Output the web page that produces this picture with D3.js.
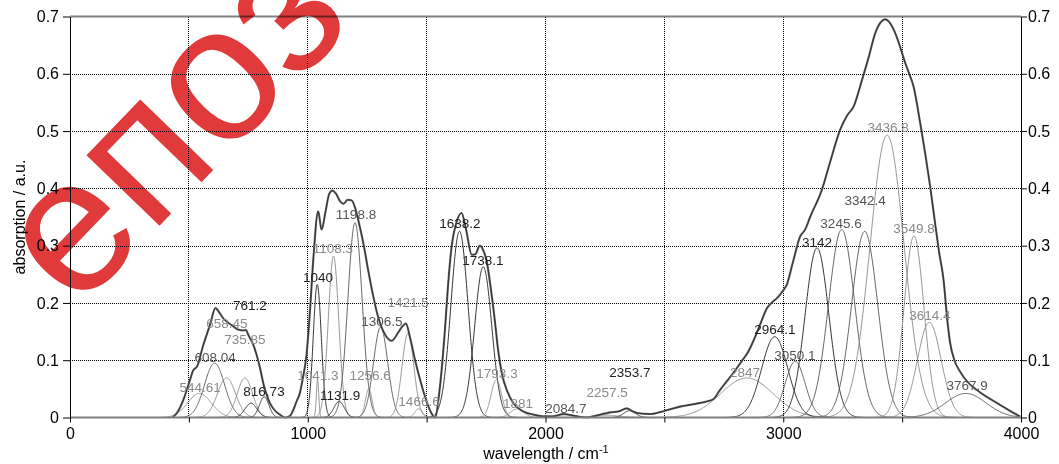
<!DOCTYPE html>
<html>
<head>
<meta charset="utf-8">
<script src="https://cdn.jsdelivr.net/npm/d3@7"></script>
<style>
body { margin: 0; background: #fff; }
svg text { font-family: "Liberation Sans", Arial, sans-serif; }
</style>
</head>
<body>
<svg id="chart"></svg>
<script>
var spectrum = [
  [430, 0], [450, 0.008], [477, 0.031], [505, 0.066], [519, 0.083], [533, 0.088],
  [561, 0.127], [589, 0.162], [612, 0.191], [630, 0.182], [645, 0.173], [667, 0.165],
  [687, 0.159], [710, 0.153], [729, 0.152], [740, 0.153], [750, 0.144], [770, 0.128],
  [785, 0.109], [800, 0.085], [813, 0.06], [827, 0.04], [841, 0.025], [862, 0.012],
  [883, 0.005], [904, 0], [925, 0.003], [953, 0.028], [967, 0.043], [980, 0.07],
  [995, 0.11], [1010, 0.19], [1024, 0.28], [1044, 0.36], [1058, 0.328], [1075, 0.36],
  [1090, 0.39], [1103, 0.396], [1120, 0.39], [1135, 0.378], [1150, 0.373], [1168, 0.38],
  [1185, 0.379], [1200, 0.365], [1215, 0.34], [1234, 0.304], [1255, 0.255], [1276, 0.211],
  [1290, 0.185], [1304, 0.165], [1325, 0.145], [1353, 0.134], [1380, 0.148], [1400, 0.16],
  [1413, 0.164], [1430, 0.14], [1451, 0.101], [1470, 0.07], [1493, 0.037], [1515, 0.012],
  [1535, 0], [1555, 0.05], [1577, 0.153], [1590, 0.23], [1605, 0.298], [1625, 0.34],
  [1647, 0.357], [1665, 0.33], [1690, 0.284], [1705, 0.285], [1724, 0.3], [1740, 0.29],
  [1753, 0.272], [1770, 0.225], [1788, 0.165], [1800, 0.12], [1816, 0.078], [1840, 0.045],
  [1865, 0.025], [1900, 0.012], [1949, 0.005], [1990, 0.002], [2030, 0.002], [2075, 0.006],
  [2120, 0.003], [2174, 0], [2220, 0.004], [2272, 0.009], [2310, 0.011], [2342, 0.016],
  [2365, 0.011], [2384, 0.008], [2440, 0.006], [2496, 0.011], [2566, 0.019], [2620, 0.023],
  [2678, 0.028], [2706, 0.032], [2734, 0.048], [2760, 0.062], [2790, 0.078], [2825, 0.098],
  [2853, 0.115], [2888, 0.147], [2910, 0.17], [2930, 0.19], [2950, 0.2], [2973, 0.208],
  [3000, 0.222], [3015, 0.232], [3040, 0.27], [3071, 0.316], [3092, 0.328], [3113, 0.35],
  [3162, 0.397], [3200, 0.45], [3239, 0.502], [3270, 0.528], [3296, 0.543], [3331, 0.589],
  [3360, 0.63], [3387, 0.671], [3410, 0.69], [3429, 0.695], [3450, 0.688], [3471, 0.671],
  [3493, 0.645], [3513, 0.619], [3530, 0.6], [3548, 0.578], [3576, 0.514], [3597, 0.461],
  [3618, 0.403], [3640, 0.335], [3655, 0.29], [3674, 0.241], [3690, 0.17], [3702, 0.13],
  [3720, 0.1], [3744, 0.08], [3780, 0.06], [3814, 0.048], [3860, 0.035], [3912, 0.022],
  [3960, 0.01], [3996, 0.002]
];

// fitted gaussian components
var peakNames   = ["544.61", "608.04", "658.45", "735.85", "761.2", "816.73", "1040", "1041.3",
                   "1108.3", "1131.9", "1198.8", "1256.6", "1306.5", "1421.5", "1466.6", "1638.2",
                   "1738.1", "1793.3", "1881", "2084.7", "2257.5", "2353.7", "2847", "2964.1",
                   "3050.1", "3142", "3245.6", "3342.4", "3436.8", "3549.8", "3614.4", "3767.9"];
var peakHeights = [0.042, 0.095, 0.069, 0.069, 0.025, 0.036, 0.232, 0.066,
                   0.282, 0.028, 0.340, 0.050, 0.158, 0.147, 0.015, 0.325,
                   0.263, 0.066, 0.015, 0.005, 0.004, 0.012, 0.069, 0.141,
                   0.098, 0.296, 0.328, 0.325, 0.493, 0.317, 0.166, 0.042];
var peakWidths  = [50, 42, 38, 32, 25, 20, 17, 5,
                   22, 22, 30, 14, 30, 25, 16, 36,
                   36, 22, 28, 40, 50, 25, 110, 55,
                   42, 50, 55, 55, 72, 42, 50, 85];
var peakTones   = ["l", "m", "l", "l", "d", "d", "d", "l",
                   "l", "d", "m", "l", "m", "l", "l", "d",
                   "d", "l", "l", "m", "l", "d", "l", "d",
                   "m", "d", "m", "m", "l", "l", "l", "m"];
// where each peak label sits, in data units
var labelX = [547, 610, 660, 736, 757, 816, 1043, 1043,
              1106, 1136, 1203, 1262, 1312, 1422, 1468, 1640,
              1737, 1796, 1884, 2086, 2259, 2355, 2839, 2965,
              3049, 3142, 3243, 3344, 3441, 3550, 3617, 3773];
var labelY = [0.045, 0.097, 0.157, 0.129, 0.188, 0.038, 0.237, 0.066,
              0.287, 0.031, 0.346, 0.066, 0.160, 0.193, 0.020, 0.330,
              0.266, 0.069, 0.017, 0.008, 0.036, 0.071, 0.071, 0.146,
              0.101, 0.298, 0.331, 0.371, 0.498, 0.322, 0.170, 0.048];

var xTicks = [0, 500, 1000, 1500, 2000, 2500, 3000, 3500, 4000];
var xTickLabels = ["0", "", "1000", "", "2000", "", "3000", "", "4000"];
var yTicks = [0, 0.1, 0.2, 0.3, 0.4, 0.5, 0.6, 0.7];
var yTickLabels = ["0", "0.1", "0.2", "0.3", "0.4", "0.5", "0.6", "0.7"];

var width = 1059;
var height = 464;
var toneColor = { d: "#1e1e1e", m: "#555555", l: "#8a8a8a" };

var svg = d3.select('#chart')
    .attr('width', width)
    .attr('height', height);

var x = d3.scaleLinear().domain([0, 4000]).range([70, 1021]);
var y = d3.scaleLinear().domain([0, 0.7]).range([417.5, 16.5]);

// dotted grid
svg.append('g').selectAll('line')
    .data(xTicks.slice(1, -1))
    .enter().append('line')
    .attr('x1', d => x(d)).attr('x2', d => x(d))
    .attr('y1', y(0)).attr('y2', y(0.7))
    .style('stroke', '#000').style('stroke-width', 1)
    .style('stroke-dasharray', '1,1')
    .attr('shape-rendering', 'crispEdges');
svg.append('g').selectAll('line')
    .data(yTicks.slice(1, -1))
    .enter().append('line')
    .attr('x1', x(0)).attr('x2', x(4000))
    .attr('y1', d => Math.round(y(d)) + 0.5).attr('y2', d => Math.round(y(d)) + 0.5)
    .style('stroke', '#000').style('stroke-width', 1)
    .style('stroke-dasharray', '1,1');

var line = d3.line()
    .x(d => x(d[0]))
    .y(d => y(d[1]));

// gaussian components
function component(i) {
    var c = +peakNames[i], h = peakHeights[i], s = peakWidths[i];
    var pts = [];
    var lo = Math.max(0, c - 4.5 * s), hi = Math.min(4000, c + 4.5 * s);
    var step = Math.max(0.5, s / 25);
    for (var w = lo; w <= hi; w += step) {
        pts.push([w, h * Math.exp(-(w - c) * (w - c) / (2 * s * s))]);
    }
    return pts;
}

svg.append('g').selectAll('path')
    .data(d3.range(peakNames.length))
    .enter().append('path')
    .attr('d', i => line(component(i)))
    .style('fill', 'none')
    .style('stroke', i => toneColor[peakTones[i]])
    .style('stroke-width', 0.9);

// measured envelope
var smooth = d3.line()
    .x(d => x(d[0]))
    .y(d => y(d[1]))
    .curve(d3.curveMonotoneX);
svg.append('path')
    .attr('d', smooth(spectrum))
    .style('fill', 'none')
    .style('stroke', '#666')
    .style('stroke-width', 2.1);
svg.append('path')
    .attr('d', smooth(spectrum))
    .style('fill', 'none')
    .style('stroke', '#222')
    .style('stroke-width', 0.8);

// frame
svg.append('line')
    .attr('x1', x(0)).attr('x2', x(4000)).attr('y1', y(0.7)).attr('y2', y(0.7))
    .style('stroke', '#808080').style('stroke-width', 2);
svg.append('line')
    .attr('x1', x(0)).attr('x2', x(4000)).attr('y1', y(0)).attr('y2', y(0))
    .style('stroke', '#808080').style('stroke-width', 2);

// axes
var leftAxis = d3.axisLeft(y)
    .tickValues(yTicks)
    .tickFormat((d, i) => yTickLabels[i])
    .tickSize(7).tickSizeOuter(0).tickPadding(4);
var rightAxis = d3.axisRight(y)
    .tickValues(yTicks)
    .tickFormat((d, i) => yTickLabels[i])
    .tickSize(6).tickSizeOuter(0).tickPadding(1);
var bottomAxis = d3.axisBottom(x)
    .tickValues(xTicks)
    .tickFormat((d, i) => xTickLabels[i])
    .tickSize(5).tickSizeOuter(0).tickPadding(5);

function styleAxis(g) {
    g.selectAll('text').style('font-size', '16px').style('fill', '#000')
        .style('font-family', '"Liberation Sans", Arial, sans-serif');
    g.selectAll('line').style('stroke', '#000');
    g.select('.domain').style('stroke', '#000');
}

svg.append('g').attr('transform', 'translate(' + x(0) + ',0)').call(leftAxis).call(styleAxis);
svg.append('g').attr('transform', 'translate(' + x(4000) + ',0)').call(rightAxis).call(styleAxis);
svg.append('g').attr('transform', 'translate(0,' + y(0) + ')').call(bottomAxis).call(styleAxis)
    .select('.domain').remove();

// peak labels
svg.append('g').selectAll('text')
    .data(d3.range(peakNames.length))
    .enter().append('text')
    .attr('x', i => x(labelX[i]))
    .attr('y', i => y(labelY[i]))
    .attr('text-anchor', 'middle')
    .style('font-size', '13.5px')
    .style('fill', i => toneColor[peakTones[i]])
    .text(i => peakNames[i]);

// axis titles
svg.append('text')
    .attr('transform', 'translate(25,217) rotate(-90)')
    .attr('text-anchor', 'middle')
    .style('font-size', '16px')
    .text('absorption / a.u.');

var xt = svg.append('text')
    .attr('x', 546).attr('y', 459)
    .attr('text-anchor', 'middle')
    .style('font-size', '16px');
xt.append('tspan').text('wavelength / cm');
xt.append('tspan').attr('dy', -6).style('font-size', '11px').text('-1');

// repository watermark
svg.append('text')
    .attr('transform', 'translate(76,312) rotate(-46)')
    .style('font-size', '192px')
    .style('fill', '#e03a3a')
    .style('mix-blend-mode', 'multiply')
    .text('епоз');
</script>
</body>
</html>
